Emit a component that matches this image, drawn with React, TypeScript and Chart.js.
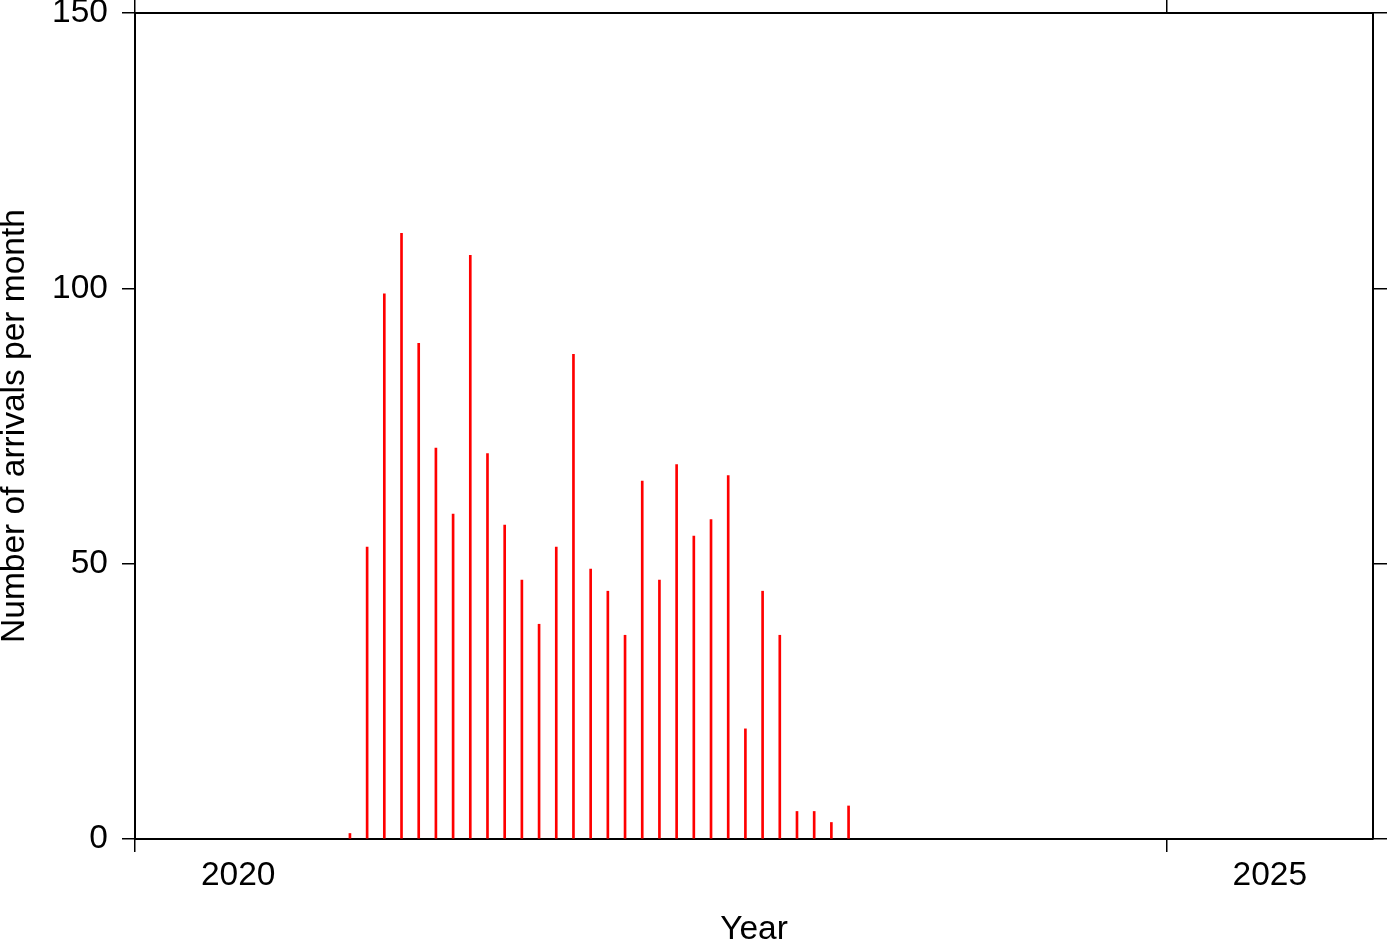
import React, { useEffect, useRef } from "react";
import { Chart, registerables } from "chart.js";

Chart.register(...registerables);

// Monthly arrivals (mid-month bars)
const months: string[] = [
  "2021-01", "2021-02", "2021-03", "2021-04", "2021-05", "2021-06",
  "2021-07", "2021-08", "2021-09", "2021-10", "2021-11", "2021-12",
  "2022-01", "2022-02", "2022-03", "2022-04", "2022-05", "2022-06",
  "2022-07", "2022-08", "2022-09", "2022-10", "2022-11", "2022-12",
  "2023-01", "2023-02", "2023-03", "2023-04", "2023-05", "2023-06",
];
const arrivals: number[] = [
  1, 53, 99, 110, 90, 71, 59, 106, 70, 57, 47, 39,
  53, 88, 49, 45, 37, 65, 47, 68, 55, 58, 66, 20,
  45, 37, 5, 5, 3, 6,
];
const yearTicks: number[] = [2020, 2025];
const yTicks: number[] = [0, 50, 100, 150];
const xTitle = "Year";
const yTitle = "Number of arrivals per month";

const FONT = "'Liberation Sans', Arial, Helvetica, sans-serif";
const FS = 33.5;

function monthToYear(m: string): number {
  const [y, mo] = m.split("-").map(Number);
  return y + (mo - 0.5) / 12;
}

export default function App() {
  const ref = useRef<HTMLCanvasElement | null>(null);

  useEffect(() => {
    document.body.style.margin = "0";
    const canvas = ref.current;
    if (!canvas) return;
    const pts = months.map((m, i) => ({ x: monthToYear(m), y: arrivals[i] }));
    const halfYearPx = (1387 - 135 - 14) / 6 / 2;

    const tickGrid = (len: number) => ({
      drawOnChartArea: false,
      drawTicks: true,
      tickLength: len,
      color: "#000",
      lineWidth: 1.5,
      offset: false,
    });
    const frame = { display: true, color: "#000", width: 2 };

    const chart = new Chart(canvas, {
      type: "bar",
      data: {
        datasets: [
          {
            data: pts as any,
            backgroundColor: "#ff0000",
            borderWidth: 0,
            barThickness: 2,
          },
        ],
      },
      options: {
        animation: false,
        responsive: false,
        maintainAspectRatio: false,
        layout: { padding: 0 },
        plugins: {
          legend: { display: false },
          tooltip: { enabled: false },
        },
        scales: {
          x: {
            type: "linear",
            position: "bottom",
            offset: false,
            min: 2020,
            max: 2026,
            afterBuildTicks: (s: any) => {
              s.ticks = yearTicks.map((v) => ({ value: v }));
            },
            afterFit: (s: any) => {
              s.height = 103;
              s.paddingLeft = 0;
              s.paddingRight = 0;
            },
            ticks: {
              labelOffset: halfYearPx,
              padding: 4,
              color: "#000",
              font: { family: FONT, size: FS },
              maxRotation: 0,
              autoSkip: false,
              callback: (v: any) => String(v),
            },
            grid: tickGrid(13),
            border: frame,
            title: {
              display: true,
              text: xTitle,
              color: "#000",
              font: { family: FONT, size: FS, lineHeight: 0.72 },
              padding: { top: 0, bottom: 0 },
            },
          },
          xTop: {
            type: "linear",
            position: "top",
            offset: false,
            min: 2020,
            max: 2026,
            afterBuildTicks: (s: any) => {
              s.ticks = yearTicks.map((v) => ({ value: v }));
            },
            afterFit: (s: any) => {
              s.height = 13;
              s.paddingLeft = 0;
              s.paddingRight = 0;
            },
            ticks: { display: false },
            grid: tickGrid(13),
            border: frame,
          },
          y: {
            type: "linear",
            position: "left",
            min: 0,
            max: 150,
            afterBuildTicks: (s: any) => {
              s.ticks = yTicks.map((v) => ({ value: v }));
            },
            afterFit: (s: any) => {
              s.width = 135;
              s.paddingTop = 0;
              s.paddingBottom = 0;
            },
            ticks: {
              padding: 14,
              color: "#000",
              font: { family: FONT, size: FS },
            },
            grid: tickGrid(13),
            border: frame,
            title: {
              display: true,
              text: yTitle,
              color: "#000",
              font: { family: FONT, size: FS, lineHeight: 1 },
              padding: { top: -2, bottom: 0 },
            },
          },
          yRight: {
            type: "linear",
            position: "right",
            min: 0,
            max: 150,
            afterBuildTicks: (s: any) => {
              s.ticks = yTicks.map((v) => ({ value: v }));
            },
            afterFit: (s: any) => {
              s.width = 14;
              s.paddingTop = 0;
              s.paddingBottom = 0;
            },
            ticks: { display: false },
            grid: tickGrid(14),
            border: frame,
          },
        },
      } as any,
    });
    return () => chart.destroy();
  }, []);

  return (
    <div style={{ position: "absolute", left: 0, top: 0, width: 1387, height: 942, background: "#fff" }}>
      <canvas ref={ref} width={1387} height={942} style={{ display: "block", width: 1387, height: 942 }} />
    </div>
  );
}
